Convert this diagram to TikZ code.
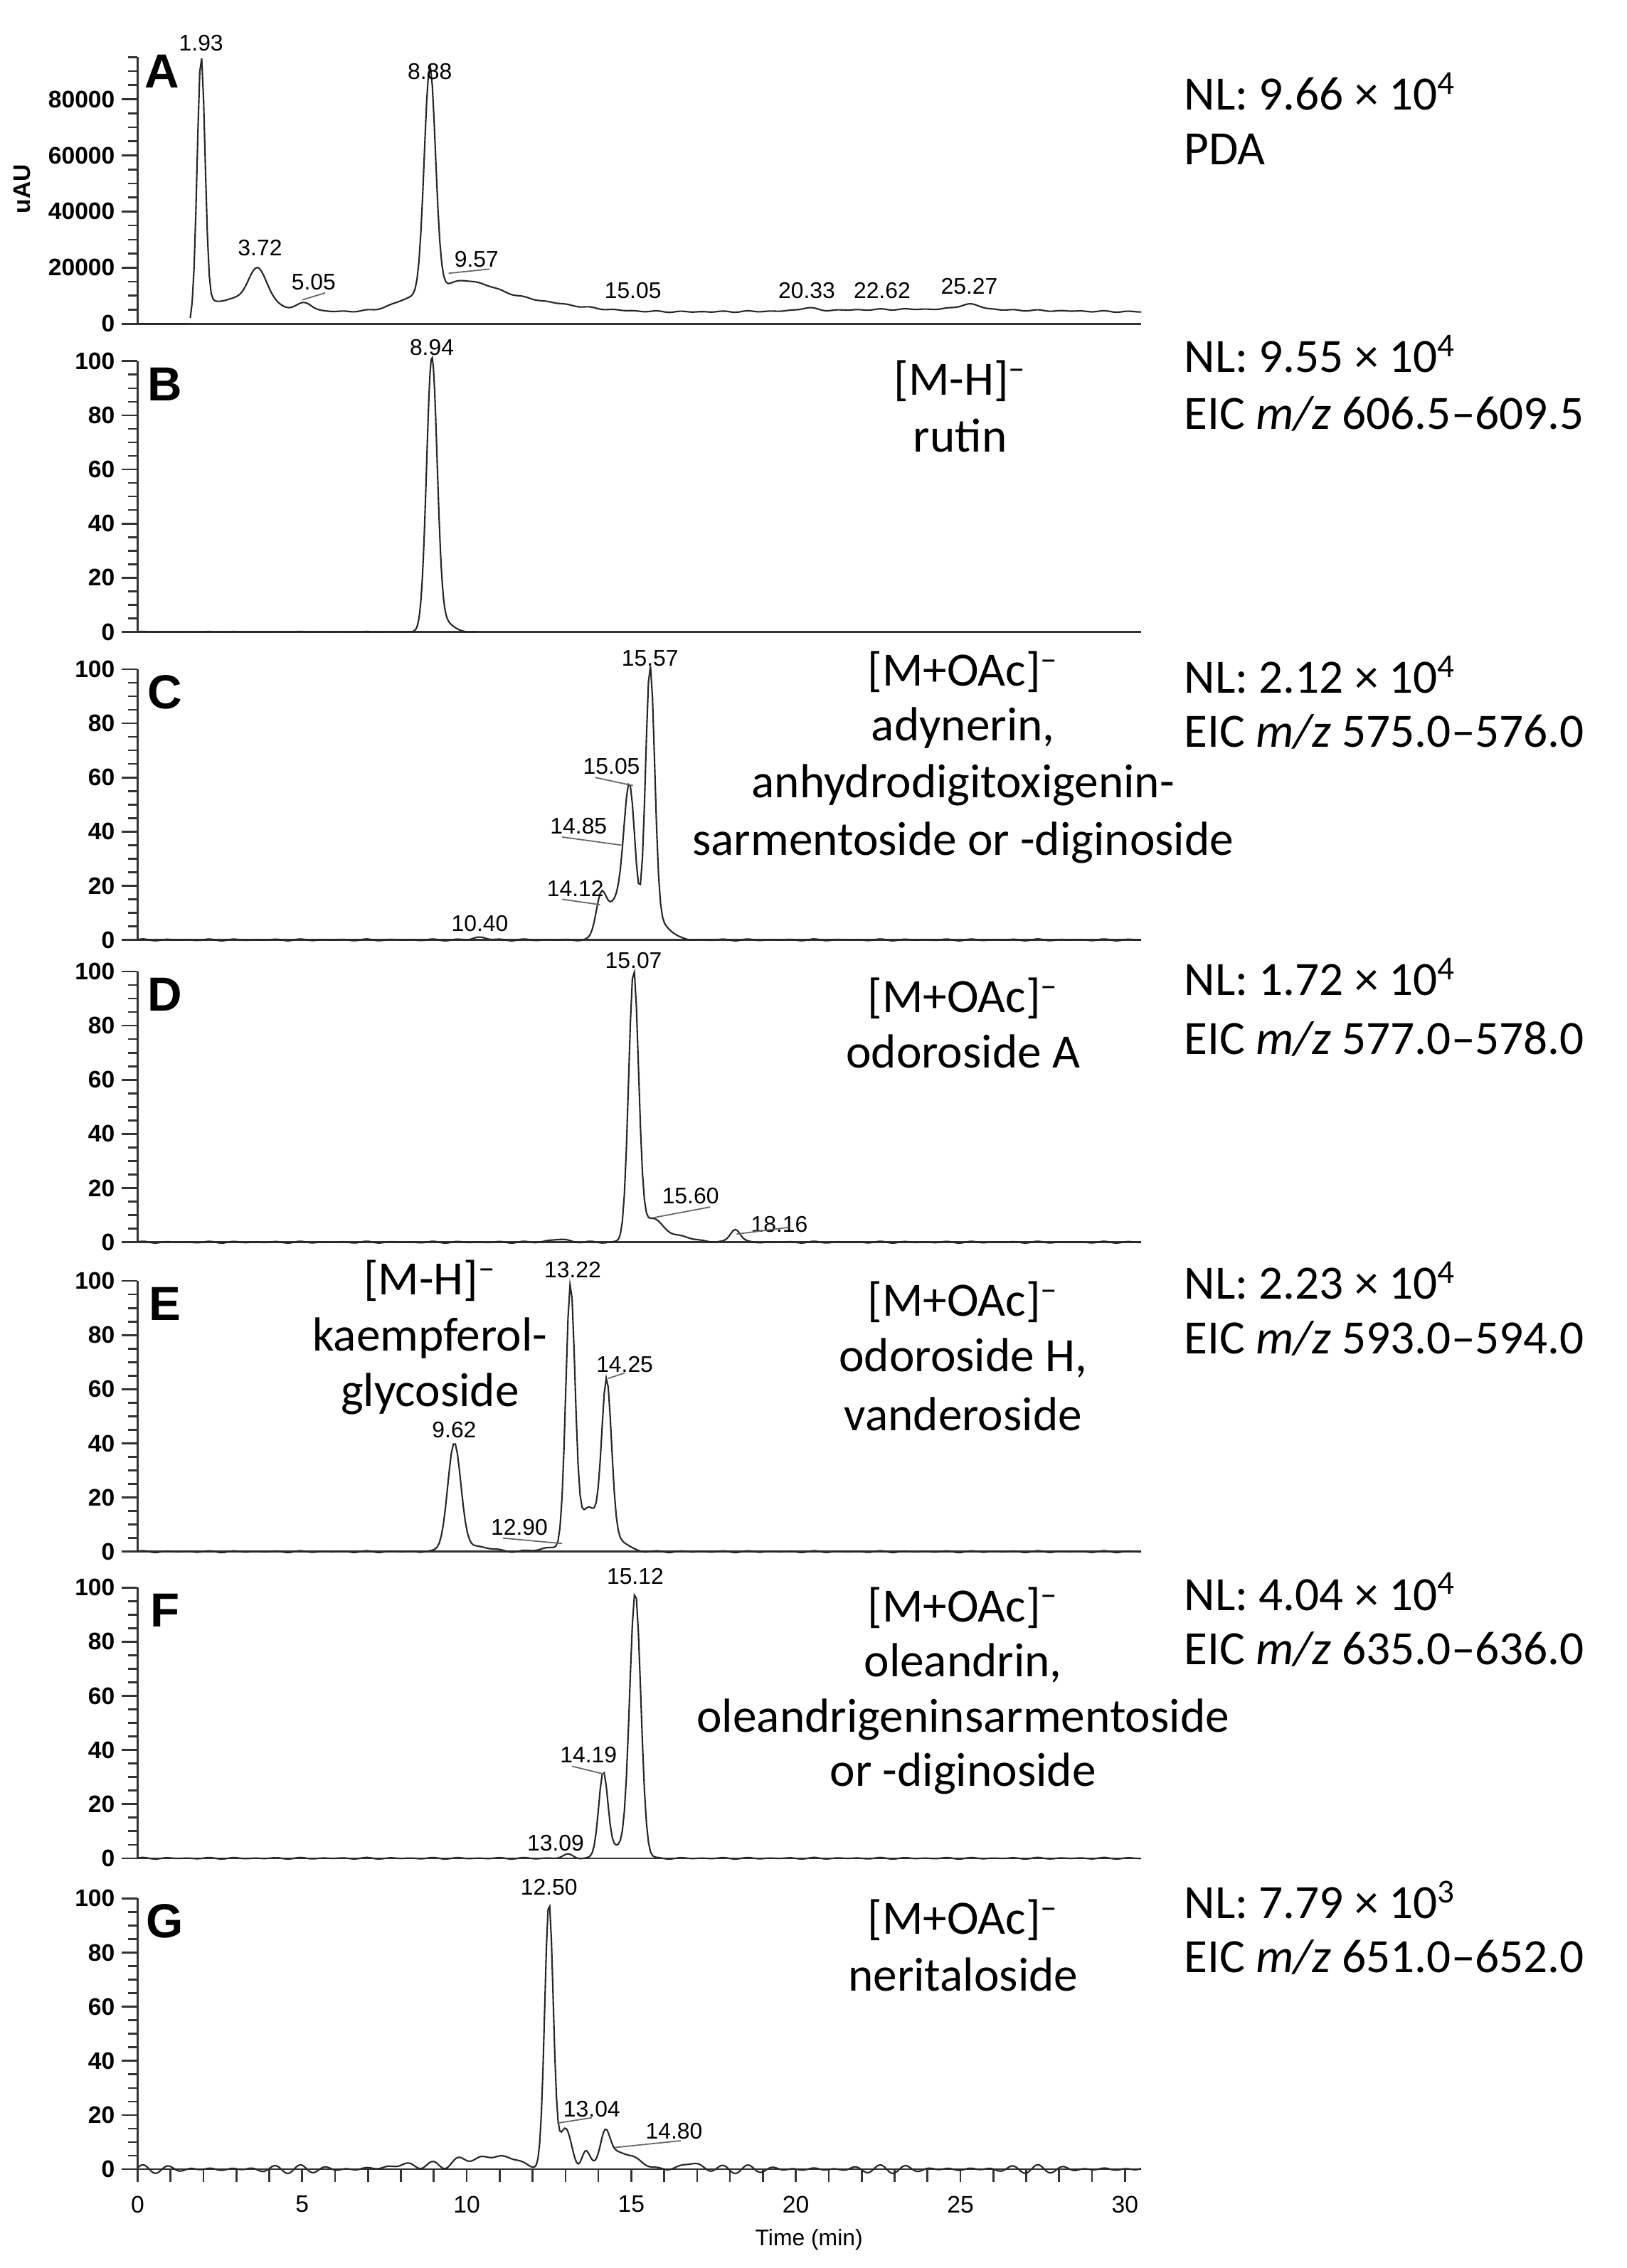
\documentclass[tikz,border=0pt]{standalone}
\usepackage{fontspec}
\setmainfont{Carlito}
\newfontfamily\arialf{Liberation Sans}
\begin{document}
\begin{tikzpicture}[x=0.02cm,y=-0.02cm,
  declare function={g(\t,\c,\s,\h)=\h*exp(-0.5*(min(abs((\t-\c)/\s),7))^2);
     nz(\t)=0.5*sin(\t*530)+0.35*sin(\t*370+40);},
  trace/.style={line width=0.6pt,black!85},
  ax/.style={line width=0.75pt,black!80},
  pk/.style={font=\arialf\fontsize{9}{10}\selectfont,inner sep=1pt},
  tk/.style={font=\arialf\bfseries\fontsize{9.5}{10}\selectfont,inner sep=1pt},
  lead/.style={line width=0.5pt,black!60},
  plet/.style={font=\arialf\bfseries\fontsize{19}{20}\selectfont},
  big/.style={font=\fontsize{19}{23}\selectfont,inner sep=0pt},
  mid/.style={big,align=center}]
\useasboundingbox (0,0) rectangle (1135,1583);
\newcommand\mypcaxes{%
  \foreach \v in {0,5,...,100}{\draw[ax] (-0.3,\v)--(0,\v);}
  \foreach \v in {0,20,...,100}{\draw[ax] (-0.48,\v)--(0,\v);
     \node[tk,anchor=east] at (-0.6,\v) {\v};}
  \draw[ax] (0,100)--(0,0)--(30.5,0);}
% ---------- A ----------
\begin{scope}[shift={(96,226)},x=0.4594cm,y=0.0392cm]
  \foreach \v in {0,5,...,95}{\draw[ax] (-0.3,\v)--(0,\v);}
  \foreach \v/\l in {0/0,20/20000,40/40000,60/60000,80/80000}{\draw[ax] (-0.48,\v)--(0,\v);
     \node[tk,anchor=east] at (-0.6,\v) {\l};}
  \draw[ax] (0,95)--(0,0)--(30.5,0);
  \node[tk,rotate=90] (uau) at (-3.5,48) {uAU};
  \node[plet] (la) at (0.74,90) {A};
  \draw[trace] (0,0)--(1.6,0);
  \draw[trace] plot[domain=1.6:30.5,samples=500] (\x,{g(\x,1.93,0.12,92)+g(\x,3.65,0.28,12)+g(\x,5.1,0.22,2.5)+g(\x,8.88,0.17,80)+g(\x,9.8,0.9,7)
     +min(1,max(0,(\x-1.6)/0.7))*(4.2+g(\x,3.0,1.1,4.5)+g(\x,8.2,0.5,2)+g(\x,11,1.8,5)+g(\x,20.33,0.25,1)+g(\x,25.27,0.35,1.8)+g(\x,24,3,1)+0.3*nz(\x))});
  \node[pk,anchor=south] (a1) at (1.93,96) {1.93};
  \node[pk,anchor=south] (a2) at (3.72,23) {3.72};
  \node[pk,anchor=south] (a3) at (5.35,11) {5.05};
  \draw[lead] (5.0,8.5)--(5.7,11);
  \node[pk,anchor=south] (a4) at (8.88,86) {8.88};
  \node[pk,anchor=south] (a5) at (10.3,19) {9.57};
  \draw[lead] (9.45,18)--(10.7,19.5);
  \node[pk,anchor=south] (a6) at (15.05,8) {15.05};
  \node[pk,anchor=south] (a7) at (20.33,8) {20.33};
  \node[pk,anchor=south] (a8) at (22.62,8) {22.62};
  \node[pk,anchor=south] (a9) at (25.27,9.5) {25.27};
\end{scope}
% ---------- B ----------
\begin{scope}[shift={(96,441)},x=0.4594cm,y=0.0378cm]
  \mypcaxes
  \node[plet] (lb) at (0.83,91.5) {B};
  \draw[trace] plot[domain=0:10.3,samples=300] (\x,{g(\x,8.94,0.16,100)+g(\x,9.3,0.25,4)+0.15*nz(\x)});
  \node[pk,anchor=south] (b1) at (8.94,101) {8.94};
\end{scope}
% ---------- C ----------
\begin{scope}[shift={(96,656)},x=0.4594cm,y=0.0378cm]
  \mypcaxes
  \node[plet] (lc) at (0.83,91.5) {C};
  \draw[trace] plot[domain=0:30.5,samples=500] (\x,{g(\x,14.08,0.15,14)+g(\x,14.95,0.17,52)+g(\x,14.55,0.3,14)+g(\x,15.57,0.14,98)+g(\x,15.9,0.3,6)+g(\x,10.4,0.2,1)+0.4*nz(\x)});
  \node[pk,anchor=south] (c1) at (15.57,100) {15.57};
  \node[pk,anchor=south] (c2) at (14.4,60) {15.05};
  \draw[lead] (13.9,60)--(15.05,57);
  \node[pk,anchor=south] (c3) at (13.4,38) {14.85};
  \draw[lead] (12.9,38)--(14.7,35);
  \node[pk,anchor=south] (c4) at (13.3,15) {14.12};
  \draw[lead] (12.9,15)--(14.05,13);
  \node[pk,anchor=south] (c5) at (10.4,2) {10.40};
\end{scope}
% ---------- D ----------
\begin{scope}[shift={(96,867)},x=0.4594cm,y=0.0378cm]
  \mypcaxes
  \node[plet] (ld) at (0.83,91.5) {D};
  \draw[trace] plot[domain=0:30.5,samples=500] (\x,{g(\x,15.07,0.15,98)+g(\x,15.6,0.35,8)+g(\x,16.4,0.5,2)+g(\x,18.16,0.15,5)+g(\x,12.8,0.3,1)+0.4*nz(\x)});
  \node[pk,anchor=south] (d1) at (15.07,100) {15.07};
  \node[pk,anchor=south] (d2) at (16.8,13) {15.60};
  \draw[lead] (15.65,9)--(17.4,13);
  \node[pk,anchor=south] (d3) at (19.5,2.5) {18.16};
  \draw[lead] (18.2,3)--(19.8,5.5);
\end{scope}
% ---------- E ----------
\begin{scope}[shift={(96,1083)},x=0.4594cm,y=0.0378cm]
  \mypcaxes
  \node[plet] (le) at (0.83,91.5) {E};
  \draw[trace] plot[domain=0:30.5,samples=500] (\x,{g(\x,9.62,0.2,39)+g(\x,10.2,0.5,2)+g(\x,13.15,0.14,96)+g(\x,13.7,0.28,16)+g(\x,14.25,0.15,60)+g(\x,14.6,0.3,4)+g(\x,12.6,0.4,1.5)+0.4*nz(\x)});
  \node[pk,anchor=south] (e1) at (13.22,100) {13.22};
  \node[pk,anchor=south] (e2) at (14.8,65) {14.25};
  \draw[lead] (14.3,64)--(14.8,66);
  \node[pk,anchor=south] (e3) at (9.62,41) {9.62};
  \node[pk,anchor=south] (e4) at (11.6,5) {12.90};
  \draw[lead] (11.1,5)--(12.9,3);
\end{scope}
% ---------- F ----------
\begin{scope}[shift={(96,1297)},x=0.4594cm,y=0.0378cm]
  \mypcaxes
  \node[plet] (lf) at (0.83,91.5) {F};
  \draw[trace] plot[domain=0:30.5,samples=500] (\x,{g(\x,14.15,0.14,32)+g(\x,14.6,0.2,4)+g(\x,15.12,0.17,98)+g(\x,13.09,0.15,1.5)+0.35*nz(\x)});
  \node[pk,anchor=south] (f1) at (15.12,100) {15.12};
  \node[pk,anchor=south] (f2) at (13.7,34) {14.19};
  \draw[lead] (13.2,34)--(14.2,31);
  \node[pk,anchor=south] (f3) at (12.7,1.5) {13.09};
\end{scope}
% ---------- G ----------
\begin{scope}[shift={(96,1514)},x=0.4594cm,y=0.0378cm]
  \mypcaxes
  \foreach \t in {0,...,30}{\draw[ax] (\t,0)--(\t,-4.8);}
  \foreach \t in {0,5,...,30}{\node[tk,font=\arialf\fontsize{9.5}{10}\selectfont,anchor=center] at (\t,-13) {\t};}
  \node[tk,font=\arialf\fontsize{9}{10}\selectfont] (tm) at (20.4,-26) {Time (min)};
  \node[plet] (lg) at (0.83,91.5) {G};
  \draw[trace] plot[domain=0:30.5,samples=600] (\x,{g(\x,12.5,0.13,98)+g(\x,13.0,0.2,14)+g(\x,13.6,0.12,6)+g(\x,14.2,0.15,14)+g(\x,14.8,0.4,6)+g(\x,10.3,0.7,4)+g(\x,11.3,0.4,3)+g(\x,8.2,0.6,1.5)+g(\x,16.8,0.3,2)+1.2*nz(\x)+0.6*sin(\x*450+20)});
  \node[pk,anchor=south] (g1) at (12.5,100) {12.50};
  \node[pk,anchor=south] (g2) at (13.8,18) {13.04};
  \draw[lead] (12.75,17)--(13.8,19);
  \node[pk,anchor=south] (g3) at (16.3,10) {14.80};
  \draw[lead] (14.5,8)--(16.5,10.5);
\end{scope}
% ---------- right-hand texts ----------
\node[big,anchor=west] (na) at (826,64) {NL: 9.66 × 10\textsuperscript{4}};
\node[big,anchor=west] (pa) at (826,104) {PDA};
\node[big,anchor=west] (nb) at (826,247) {NL: 9.55 × 10\textsuperscript{4}};
\node[big,anchor=west] (eb) at (826,289) {EIC \textit{m/z} 606.5–609.5};
\node[big,anchor=west] (nc) at (826,471) {NL: 2.12 × 10\textsuperscript{4}};
\node[big,anchor=west] (ec) at (826,511) {EIC \textit{m/z} 575.0–576.0};
\node[big,anchor=west] (nd) at (826,682) {NL: 1.72 × 10\textsuperscript{4}};
\node[big,anchor=west] (ed) at (826,725) {EIC \textit{m/z} 577.0–578.0};
\node[big,anchor=west] (ne) at (826,894) {NL: 2.23 × 10\textsuperscript{4}};
\node[big,anchor=west] (ee) at (826,934) {EIC \textit{m/z} 593.0–594.0};
\node[big,anchor=west] (nf) at (826,1111) {NL: 4.04 × 10\textsuperscript{4}};
\node[big,anchor=west] (ef) at (826,1151) {EIC \textit{m/z} 635.0–636.0};
\node[big,anchor=west] (ng) at (826,1326) {NL: 7.79 × 10\textsuperscript{3}};
\node[big,anchor=west] (eg) at (826,1366) {EIC \textit{m/z} 651.0–652.0};
% ---------- compound labels ----------
\node[big] (mb1) at (670,266) {[M-H]\textsuperscript{–}};
\node[big] (mb2) at (670,304) {rutin};
\node[big] (mc1) at (672,469) {[M+OAc]\textsuperscript{–}};
\node[big] (mc2) at (672,508) {adynerin,};
\node[big] (mc3) at (672,548) {anhydrodigitoxigenin-};
\node[big] (mc4) at (672,588) {sarmentoside or -diginoside};
\node[big] (md1) at (672,697) {[M+OAc]\textsuperscript{–}};
\node[big] (md2) at (672,734) {odoroside A};
\node[big] (me1) at (672,909) {[M+OAc]\textsuperscript{–}};
\node[big] (me2) at (672,948) {odoroside H,};
\node[big] (me3) at (672,987) {vanderoside};
\node[big] (mf1) at (672,1122) {[M+OAc]\textsuperscript{–}};
\node[big] (mf2) at (672,1161) {oleandrin,};
\node[big] (mf3) at (672,1200) {oleandrigeninsarmentoside};
\node[big] (mf4) at (672,1238) {or -diginoside};
\node[big] (mg1) at (672,1340) {[M+OAc]\textsuperscript{–}};
\node[big] (mg2) at (672,1378) {neritaloside};
\node[big] (ke1) at (300,894) {[M-H]\textsuperscript{–}};
\node[big] (ke2) at (300,934) {kaempferol-};
\node[big] (ke3) at (300,973) {glycoside};
\end{tikzpicture}
\end{document}
